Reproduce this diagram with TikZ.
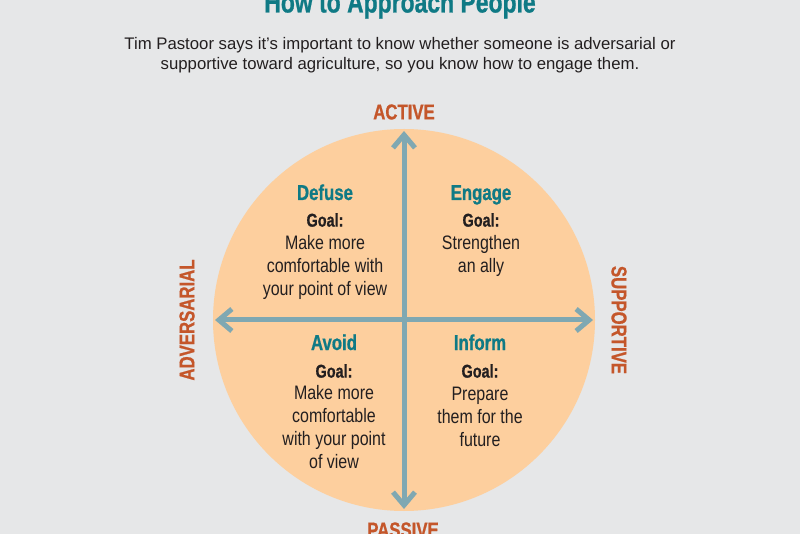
\documentclass[tikz,border=0pt]{standalone}
\usepackage{fontspec}
\setmainfont{Liberation Sans}
\newfontfamily\cond[FakeStretch=0.78,BoldFeatures={FakeBold=0.8}]{Liberation Sans}
\newfontfamily\condbody[FakeStretch=0.82]{Liberation Sans}
\usetikzlibrary{arrows.meta}
\definecolor{bgc}{HTML}{E6E7E8}
\definecolor{disc}{HTML}{FDCF9E}
\definecolor{teal}{HTML}{0F7A85}
\definecolor{rust}{HTML}{C4562A}
\definecolor{axisc}{HTML}{7FA8B2}
\definecolor{ink}{HTML}{231F20}
\tikzset{
  x=1pt,y=-1pt,
  heading/.style={font=\cond\fontsize{21.5}{24}\selectfont\bfseries,text=teal,inner sep=0pt,anchor=base},
  goalhead/.style={font=\cond\fontsize{18.5}{21}\selectfont\bfseries,text=ink,inner sep=0pt},
  body/.style={font=\condbody\fontsize{19.5}{23}\selectfont,text=ink,align=center,inner sep=0pt},
  dirlabel/.style={font=\cond\fontsize{21.5}{24}\selectfont\bfseries,text=rust,inner sep=0pt},
  axisline/.style={draw=axisc,line width=5pt,{Straight Barb[length=13pt,width=22pt,line width=5pt]}-{Straight Barb[length=13pt,width=22pt,line width=5pt]}},
}
\begin{document}
\begin{tikzpicture}
\path[use as bounding box] (0,0) rectangle (800,534);
\clip (0,0) rectangle (800,534);
\fill[bgc] (0,0) rectangle (800,534);
\node[font=\cond\fontsize{29.4}{32}\selectfont\bfseries,text=teal,inner sep=0pt,anchor=base] (title) at (400,12.5) {How to Approach People};
\node[font=\fontsize{16.75}{20}\selectfont,text=ink,align=center,inner sep=0pt] (intro) at (400,55.5) {Tim Pastoor says it’s important to know whether someone is adversarial or\\supportive toward agriculture, so you know how to engage them.};
\node[circle,fill=disc,minimum size=382pt,inner sep=0pt] (disc) at (404,320) {};
\coordinate (top) at (404,131);
\coordinate (bottom) at (404,509);
\coordinate (left) at (215,320);
\coordinate (right) at (593,320);
\draw[axisline] (top) -- (bottom);
\draw[axisline] (left) -- (right);
\node[dirlabel] (active) at (404,112) {ACTIVE};
\node[dirlabel] (passive) at (403,530) {PASSIVE};
\node[dirlabel,rotate=90] (adv) at (187,320) {ADVERSARIAL};
\node[dirlabel,rotate=-90] (sup) at (619,320) {SUPPORTIVE};
\node[heading] (h1) at (325,200) {Defuse};
\node[goalhead] (g1) at (325,220) {Goal:};
\node[body] (b1) at (325,267) {Make more\\comfortable with\\your point of view};
\node[heading] (h2) at (481,200) {Engage};
\node[goalhead] (g2) at (481,220) {Goal:};
\node[body] (b2) at (481,255.5) {Strengthen\\an ally};
\node[heading] (h3) at (334,350) {Avoid};
\node[goalhead] (g3) at (334,371) {Goal:};
\node[body] (b3) at (334,427.5) {Make more\\comfortable\\with your point\\of view};
\node[heading] (h4) at (480,350) {Inform};
\node[goalhead] (g4) at (480,371) {Goal:};
\node[body] (b4) at (480,416.5) {Prepare\\them for the\\future};
\end{tikzpicture}
\end{document}
